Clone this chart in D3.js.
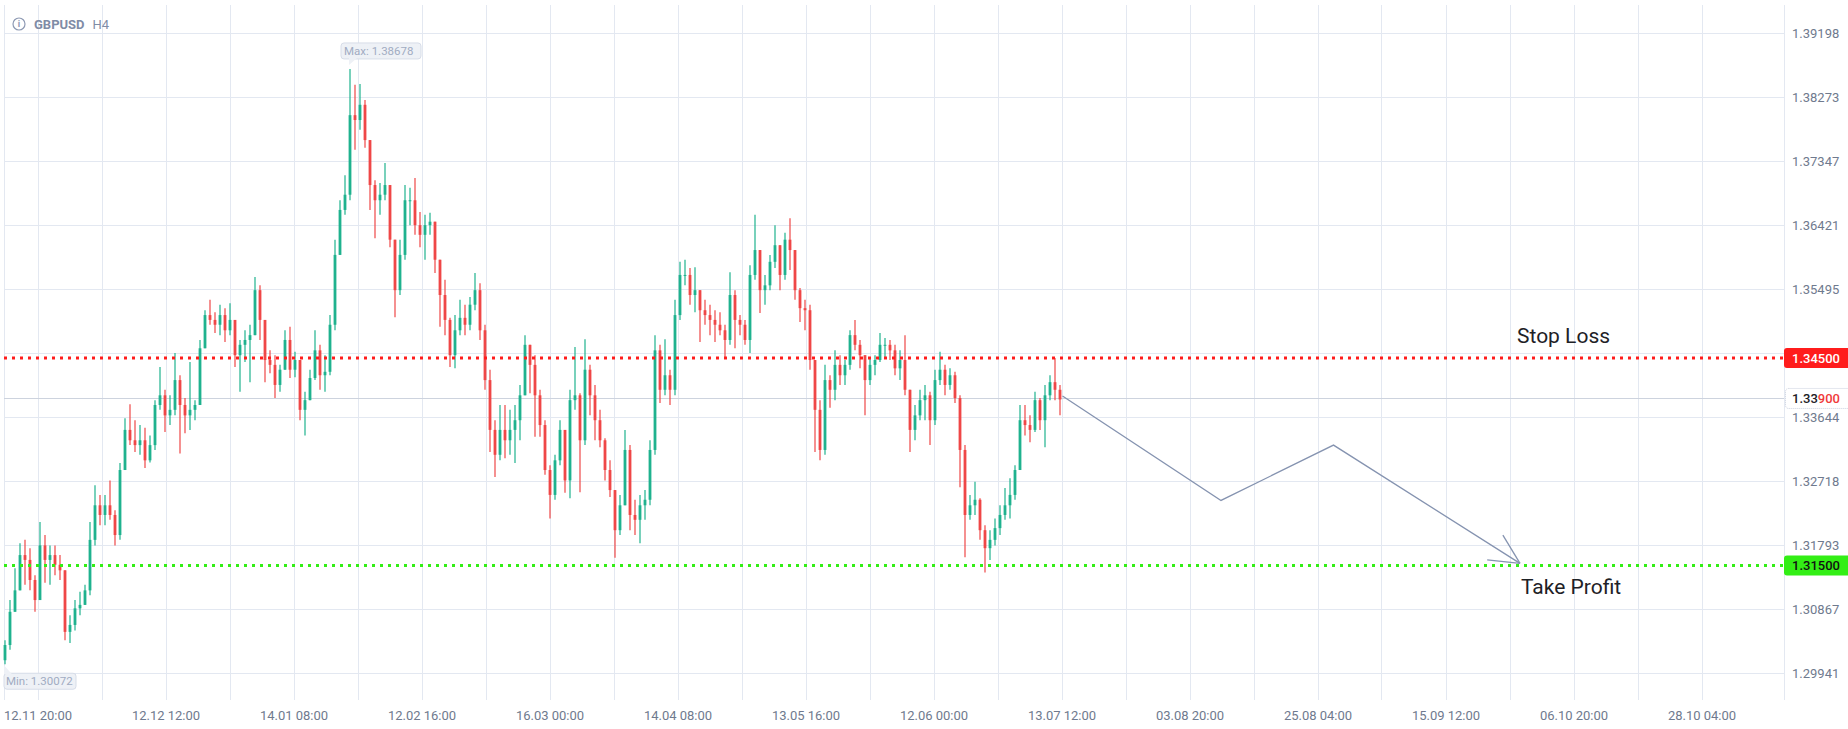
<!DOCTYPE html>
<html>
<head>
<meta charset="utf-8">
<script src="https://cdn.jsdelivr.net/npm/d3@7"></script>
<style>
  body { margin: 0; background: #fff; }
  #chart1 { width: 1848px; height: 729px; }
  text { font-family: Roboto, "Noto Sans", sans-serif; }
</style>
</head>
<body>
<div id="chart1"></div>
<script>

var symbol = "GBPUSD";
var timeframe = "H4";

// one candle per slot, open = previous close
var firstOpen = 1.3013;
var highs = [
  1.3042,1.3100,1.3146,1.3182,1.3187,1.3175,1.3136,1.3213,1.3194,1.3179,
  1.3179,1.3165,1.3143,1.3078,1.3100,1.3112,1.3122,1.3213,1.3266,1.3252,
  1.3252,1.3273,1.3230,1.3298,1.3363,1.3383,1.3360,1.3353,1.3349,1.3338,
  1.3389,1.3437,1.3404,1.3396,1.3457,1.3425,1.3392,1.3444,1.3389,1.3476,
  1.3519,1.3534,1.3516,1.3527,1.3522,1.3529,1.3505,1.3476,1.3490,1.3498,
  1.3567,1.3555,1.3505,1.3461,1.3454,1.3440,1.3490,1.3495,1.3459,1.3447,
  1.3401,1.3433,1.3490,1.3469,1.3454,1.3512,1.3621,1.3678,1.3714,1.38678,
  1.3845,1.3846,1.3823,1.3765,1.3707,1.3703,1.3732,1.3700,1.3621,1.3621,
  1.3700,1.3696,1.3710,1.3661,1.3657,1.3660,1.3647,1.3592,1.3563,1.3508,
  1.3512,1.3534,1.3527,1.3538,1.3573,1.3558,1.3498,1.3433,1.3360,1.3382,
  1.3382,1.3375,1.3382,1.3411,1.3483,1.3469,1.3454,1.3404,1.3360,1.3295,
  1.3310,1.3360,1.3346,1.3404,1.3466,1.3399,1.3477,1.3440,1.3411,1.3375,
  1.3334,1.3302,1.3259,1.3252,1.3346,1.3324,1.3245,1.3252,1.3259,1.3331,
  1.3483,1.3469,1.3477,1.3433,1.3534,1.3589,1.3592,1.3580,1.3581,1.3548,
  1.3534,1.3527,1.3519,1.3516,1.3498,1.3574,1.3548,1.3512,1.3505,1.3584,
  1.3657,1.3606,1.3570,1.3599,1.3642,1.3613,1.3631,1.3652,1.3606,1.3551,
  1.3534,1.3527,1.3447,1.3389,1.3440,1.3425,1.3461,1.3454,1.3447,1.3490,
  1.3505,1.3476,1.3454,1.3450,1.3454,1.3486,1.3479,1.3476,1.3469,1.3461,
  1.3483,1.3404,1.3382,1.3404,1.3411,1.3401,1.3433,1.3459,1.3440,1.3435,
  1.3430,1.3396,1.3324,1.3252,1.3271,1.3247,1.3208,1.3201,1.3218,1.3237,
  1.3262,1.3276,1.3295,1.3382,1.3382,1.3367,1.3401,1.3392,1.3411,1.3425,
  1.3450,1.3411
];
var lows = [
  1.30072,1.3028,1.3096,1.3136,1.3122,1.3114,1.3083,1.3100,1.3125,1.3122,
  1.3136,1.3129,1.3042,1.3038,1.3056,1.3078,1.3093,1.3107,1.3179,1.3208,
  1.3208,1.3216,1.3179,1.3187,1.3288,1.3324,1.3314,1.3310,1.3291,1.3299,
  1.3317,1.3375,1.3343,1.3353,1.3367,1.3312,1.3341,1.3346,1.3360,1.3382,
  1.3469,1.3498,1.3486,1.3483,1.3473,1.3483,1.3437,1.3401,1.3444,1.3415,
  1.3483,1.3476,1.3415,1.3428,1.3392,1.3401,1.3440,1.3421,1.3422,1.3360,
  1.3338,1.3389,1.3418,1.3404,1.3401,1.3425,1.3490,1.3599,1.3657,1.3678,
  1.3751,1.3780,1.3754,1.3664,1.3623,1.3657,1.3678,1.3610,1.3509,1.3541,
  1.3592,1.3642,1.3628,1.3610,1.3592,1.3628,1.3573,1.3495,1.3483,1.3437,
  1.3435,1.3483,1.3483,1.3490,1.3519,1.3476,1.3404,1.3314,1.3278,1.3302,
  1.3305,1.3310,1.3298,1.3331,1.3396,1.3399,1.3336,1.3336,1.3281,1.3218,
  1.3245,1.3295,1.3255,1.3247,1.3375,1.3256,1.3324,1.3367,1.3331,1.3321,
  1.3273,1.3249,1.3161,1.3194,1.3237,1.3201,1.3194,1.3182,1.3216,1.3237,
  1.3310,1.3385,1.3396,1.3382,1.3396,1.3505,1.3555,1.3527,1.3516,1.3473,
  1.3498,1.3483,1.3473,1.3483,1.3450,1.3469,1.3464,1.3483,1.3469,1.3457,
  1.3563,1.3515,1.3527,1.3548,1.3580,1.3548,1.3563,1.3577,1.3534,1.3502,
  1.3490,1.3433,1.3314,1.3302,1.3310,1.3378,1.3389,1.3411,1.3411,1.3433,
  1.3461,1.3435,1.3367,1.3411,1.3425,1.3444,1.3450,1.3447,1.3425,1.3418,
  1.3396,1.3314,1.3331,1.3360,1.3360,1.3324,1.3353,1.3411,1.3396,1.3404,
  1.3385,1.3263,1.3162,1.3216,1.3223,1.3187,1.3140,1.3158,1.3179,1.3194,
  1.3216,1.3218,1.3245,1.3288,1.3338,1.3328,1.3343,1.3346,1.3321,1.3389,
  1.3389,1.3367
];
var closes = [
  1.3035,1.3083,1.3114,1.3165,1.3158,1.3129,1.3100,1.3179,1.3158,1.3165,
  1.3151,1.3143,1.3054,1.3064,1.3088,1.3093,1.3114,1.3187,1.3237,1.3223,
  1.3237,1.3223,1.3194,1.3288,1.3346,1.3331,1.3324,1.3331,1.3302,1.3324,
  1.3382,1.3396,1.3367,1.3375,1.3418,1.3382,1.3367,1.3375,1.3382,1.3464,
  1.3512,1.3505,1.3498,1.3512,1.3490,1.3505,1.3454,1.3469,1.3476,1.3483,
  1.3548,1.3505,1.3447,1.3440,1.3411,1.3433,1.3476,1.3433,1.3447,1.3375,
  1.3389,1.3421,1.3461,1.3425,1.3430,1.3498,1.3599,1.3664,1.3686,1.3801,
  1.3794,1.3816,1.3765,1.3700,1.3678,1.3686,1.3700,1.3621,1.3548,1.3599,
  1.3678,1.3678,1.3642,1.3628,1.3642,1.3647,1.3592,1.3541,1.3505,1.3454,
  1.3490,1.3508,1.3498,1.3527,1.3548,1.3490,1.3418,1.3346,1.3310,1.3346,
  1.3331,1.3346,1.3360,1.3396,1.3469,1.3440,1.3396,1.3353,1.3288,1.3252,
  1.3302,1.3346,1.3273,1.3389,1.3396,1.3331,1.3433,1.3396,1.3360,1.3331,
  1.3288,1.3259,1.3201,1.3237,1.3317,1.3223,1.3216,1.3237,1.3245,1.3317,
  1.3461,1.3404,1.3425,1.3404,1.3512,1.3570,1.3570,1.3541,1.3548,1.3519,
  1.3512,1.3505,1.3498,1.3490,1.3476,1.3541,1.3505,1.3498,1.3476,1.3570,
  1.3606,1.3548,1.3555,1.3589,1.3613,1.3570,1.3621,1.3606,1.3548,1.3522,
  1.3519,1.3447,1.3375,1.3317,1.3418,1.3404,1.3440,1.3425,1.3440,1.3483,
  1.3469,1.3454,1.3418,1.3440,1.3447,1.3469,1.3469,1.3461,1.3435,1.3447,
  1.3404,1.3346,1.3367,1.3389,1.3396,1.3360,1.3418,1.3433,1.3411,1.3425,
  1.3392,1.3317,1.3223,1.3237,1.3245,1.3201,1.3175,1.3187,1.3204,1.3223,
  1.3237,1.3252,1.3288,1.3360,1.3353,1.3346,1.3389,1.3360,1.3396,1.3415,
  1.3404,1.3390
];

var priceTicks = [1.29941,1.30867,1.31793,1.32718,1.33644,1.34569,1.35495,1.36421,1.37347,1.38273,1.39198];
var dateLabels = ["12.11 20:00","12.12 12:00","14.01 08:00","12.02 16:00","16.03 00:00","14.04 08:00","13.05 16:00",
                  "12.06 00:00","13.07 12:00","03.08 20:00","25.08 04:00","15.09 12:00","06.10 20:00","28.10 04:00"];
var gridStart = 6.5, gridStep = 12.8, gridCount = 27;   // in candle slots

var maxPrice = 1.38678, minPrice = 1.30072;
var lastPrice = 1.33900;
var stopLoss = 1.34500, takeProfit = 1.31500;

var forecastIdx = [211.5, 243.2, 265.7, 303.0];
var forecastPrice = [1.3395, 1.3244, 1.3324, 1.3153];

var candles = closes.map(function(c, i) {
    var o = i === 0 ? firstOpen : closes[i-1];
    return { i: i, o: o, c: c,
             h: Math.max(highs[i], o, c),
             l: Math.min(lows[i], o, c) };
});

var width = 1848, height = 729;
var plotLeft = 4, plotRight = 1784, plotTop = 5, plotBottom = 700;

var svg = d3.select("#chart1")
    .append("svg")
    .attr("width", width)
    .attr("height", height);

svg.append("rect").attr("width", width).attr("height", height).attr("fill", "#fff");

var xScale = d3.scaleLinear().domain([0, 211]).range([5, 1060]);
var yScale = d3.scaleLinear().domain([1.29941, 1.39198]).range([673.3, 33]);

var gridColor = "#e3e8f1";

// vertical grid
var gridIdx = d3.range(gridCount).map(function(j) { return gridStart + gridStep * j; });
svg.selectAll("line.vgrid")
    .data(gridIdx)
    .enter().append("line")
        .attr("class", "vgrid")
        .attr("x1", function(d) { return Math.round(xScale(d)) + 0.5; })
        .attr("x2", function(d) { return Math.round(xScale(d)) + 0.5; })
        .attr("y1", plotTop).attr("y2", plotBottom)
        .attr("stroke", gridColor);

// horizontal grid
svg.selectAll("line.hgrid")
    .data(priceTicks)
    .enter().append("line")
        .attr("class", "hgrid")
        .attr("x1", plotLeft).attr("x2", plotRight)
        .attr("y1", function(d) { return Math.round(yScale(d)) + 0.5; })
        .attr("y2", function(d) { return Math.round(yScale(d)) + 0.5; })
        .attr("stroke", gridColor);

// borders
[plotLeft, plotRight].forEach(function(x) {
    svg.append("line")
        .attr("x1", x + 0.5).attr("x2", x + 0.5)
        .attr("y1", plotTop).attr("y2", plotBottom)
        .attr("stroke", gridColor);
});

// price axis labels (the ones hidden behind a level tag are skipped)
var tagged = [stopLoss, takeProfit, lastPrice];
var shownTicks = priceTicks.filter(function(t) {
    return tagged.every(function(p) { return Math.abs(yScale(p) - yScale(t)) > 14; });
});
svg.selectAll("text.ylab")
    .data(shownTicks)
    .enter().append("text")
        .attr("class", "ylab")
        .attr("x", 1792)
        .attr("y", function(d) { return yScale(d); })
        .attr("dy", "0.35em")
        .attr("font-size", 13)
        .attr("fill", "#6f7a8e")
        .text(function(d) { return d.toFixed(5); });

// date labels
svg.selectAll("text.xlab")
    .data(dateLabels)
    .enter().append("text")
        .attr("class", "xlab")
        .attr("x", function(d, k) { return xScale(gridStart + gridStep * 2 * k) + 0.5; })
        .attr("y", 720)
        .attr("text-anchor", "middle")
        .attr("font-size", 13)
        .attr("fill", "#6f7a8e")
        .text(function(d) { return d; });

// last price line
svg.append("line")
    .attr("x1", plotLeft).attr("x2", plotRight)
    .attr("y1", Math.round(yScale(lastPrice)) - 0.5)
    .attr("y2", Math.round(yScale(lastPrice)) - 0.5)
    .attr("stroke", "#cdd3de");

// candles
var up = "#1fb28e", down = "#ef4747";
var cg = svg.append("g");
cg.selectAll("line.wick")
    .data(candles)
    .enter().append("line")
        .attr("class", "wick")
        .attr("x1", function(d) { return xScale(d.i); })
        .attr("x2", function(d) { return xScale(d.i); })
        .attr("y1", function(d) { return yScale(d.h); })
        .attr("y2", function(d) { return yScale(d.l); })
        .attr("stroke", function(d) { return d.c >= d.o ? up : down; })
        .attr("stroke-width", 1.2);
cg.selectAll("rect.body")
    .data(candles)
    .enter().append("rect")
        .attr("class", "body")
        .attr("x", function(d) { return xScale(d.i) - 1.4; })
        .attr("width", 2.8)
        .attr("y", function(d) { return yScale(Math.max(d.o, d.c)); })
        .attr("height", function(d) { return Math.max(1, Math.abs(yScale(d.o) - yScale(d.c))); })
        .attr("fill", function(d) { return d.c >= d.o ? up : down; });

// stop loss / take profit lines
var levels = [
    { price: stopLoss, color: "#ff1c1c", text: "#fff", name: "Stop Loss", nx: 1517, ny: -15 },
    { price: takeProfit, color: "#33ee15", text: "#111", name: "Take Profit", nx: 1521, ny: 29 }
];
levels.forEach(function(lv) {
    var y = yScale(lv.price);
    svg.append("line")
        .attr("x1", plotLeft).attr("x2", plotRight)
        .attr("y1", y).attr("y2", y)
        .attr("stroke", lv.color)
        .attr("stroke-width", 3)
        .attr("stroke-dasharray", "3,5");
    svg.append("path")
        .attr("d", "M" + plotRight + "," + (y - 10) + "H1848V" + (y + 10) + "H" + (plotRight + 3) +
                   "Q" + plotRight + "," + (y + 10) + " " + plotRight + "," + (y + 7) + "V" + (y - 7) +
                   "Q" + plotRight + "," + (y - 10) + " " + (plotRight + 3) + "," + (y - 10) + "Z")
        .attr("fill", lv.color);
    svg.append("text")
        .attr("x", 1792).attr("y", y).attr("dy", "0.35em")
        .attr("font-size", 13).attr("font-weight", 500)
        .attr("fill", lv.text)
        .text(lv.price.toFixed(5));
    svg.append("text")
        .attr("x", lv.nx)
        .attr("y", y + lv.ny)
        .attr("font-size", 21)
        .attr("fill", "#1e2126")
        .text(lv.name);
});

// current price box
var ly = yScale(lastPrice) - 1;
svg.append("rect")
    .attr("x", plotRight + 1.5).attr("y", ly - 10)
    .attr("width", 70).attr("height", 20).attr("rx", 3)
    .attr("fill", "#fff")
    .attr("stroke", "#c9d0de")
    .attr("stroke-dasharray", "1,1");
var lp = lastPrice.toFixed(5);
var lt = svg.append("text")
    .attr("x", 1792).attr("y", ly).attr("dy", "0.35em")
    .attr("font-size", 13).attr("font-weight", 500);
lt.append("tspan").attr("fill", "#1e2126").text(lp.slice(0, 4));
lt.append("tspan").attr("fill", "#f03a3a").text(lp.slice(4));

// forecast path
var fpts = forecastIdx.map(function(d, k) { return [xScale(d), yScale(forecastPrice[k])]; });
svg.append("path")
    .attr("d", d3.line()(fpts))
    .attr("fill", "none")
    .attr("stroke", "#8593b0")
    .attr("stroke-width", 1.3);
var tip = fpts[fpts.length - 1], prev = fpts[fpts.length - 2];
var ang = Math.atan2(prev[1] - tip[1], prev[0] - tip[0]);
[-0.46, 0.46].forEach(function(a) {
    svg.append("line")
        .attr("x1", tip[0]).attr("y1", tip[1])
        .attr("x2", tip[0] + 33 * Math.cos(ang + a))
        .attr("y2", tip[1] + 33 * Math.sin(ang + a))
        .attr("stroke", "#8593b0")
        .attr("stroke-width", 1.3);
});

// max / min callouts
function callout(x, y, label, below) {
    var g = svg.append("g");
    var w = 80, h = 16;
    var top = below ? y + 9 : y - 10 - h;
    var ptr = below
        ? "M" + x + "," + (y + 1) + "L" + x + "," + (top + 1) + "L" + (x + 8) + "," + (top + 1) + "Z"
        : "M" + x + "," + (y - 4) + "L" + x + "," + (top + h - 1) + "L" + (x + 8) + "," + (top + h - 1) + "Z";
    g.append("rect")
        .attr("x", below ? x : x - 8).attr("y", top)
        .attr("width", below ? 72 : w).attr("height", h).attr("rx", 3)
        .attr("fill", "#eef1f6").attr("stroke", "#d7dde8");
    g.append("path").attr("d", ptr).attr("fill", "#eef1f6").attr("stroke", "none");
    g.append("text")
        .attr("x", below ? x + 2 : x - 5).attr("y", top + h / 2).attr("dy", "0.36em")
        .attr("font-size", 11.5).attr("fill", "#a1acc2")
        .text(label);
}
var maxC = candles.reduce(function(a, b) { return b.h > a.h ? b : a; });
var minC = candles.reduce(function(a, b) { return b.l < a.l ? b : a; });
callout(xScale(maxC.i) - 1, yScale(maxPrice), "Max: " + maxPrice.toFixed(5), false);
callout(xScale(minC.i) - 1, yScale(minPrice), "Min: " + minPrice.toFixed(5), true);

// title
svg.append("circle").attr("cx", 19).attr("cy", 24).attr("r", 6)
    .attr("fill", "none").attr("stroke", "#8d99b3").attr("stroke-width", 1.2);
svg.append("text").attr("x", 19).attr("y", 24).attr("dy", "0.36em")
    .attr("text-anchor", "middle").attr("font-size", 9).attr("font-weight", 700)
    .attr("fill", "#8d99b3").text("i");
var title = svg.append("text").attr("x", 34).attr("y", 29).attr("font-size", 13).attr("fill", "#7f8ca6");
title.append("tspan").attr("font-weight", 700).text(symbol);
title.append("tspan").attr("dx", 8).text(timeframe);

</script>
</body>
</html>
